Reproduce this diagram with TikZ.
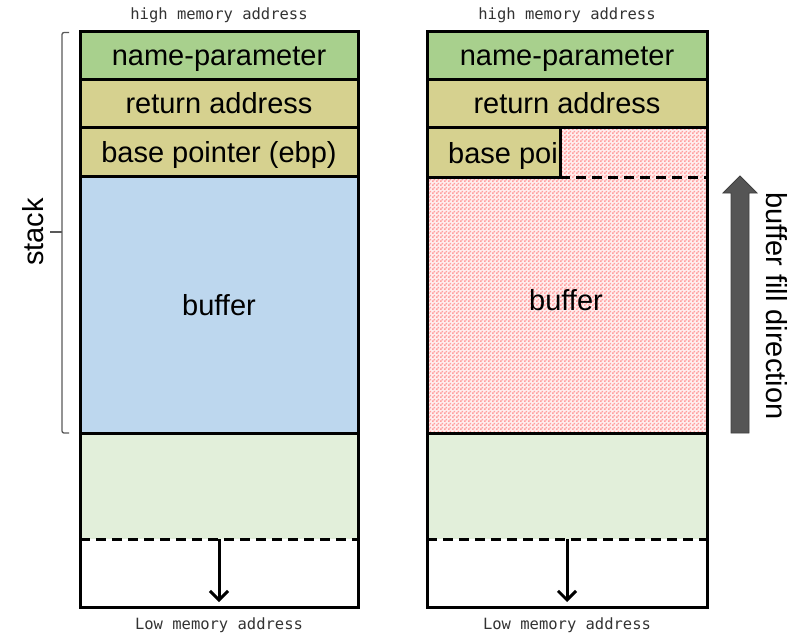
\documentclass[tikz,border=0pt]{standalone}
\usepackage{fontspec}
\setmainfont{Liberation Sans}
\newfontfamily\monof{DejaVu Sans Mono}
\usetikzlibrary{arrows.meta,patterns}
\pgfdeclarepatternformonly{pinkcheck}{\pgfpointorigin}{\pgfpoint{4pt}{4pt}}{\pgfpoint{4pt}{4pt}}{%
  \pgfpathrectangle{\pgfpointorigin}{\pgfpoint{2pt}{2pt}}%
  \pgfpathrectangle{\pgfpoint{2pt}{2pt}}{\pgfpoint{2pt}{2pt}}%
  \pgfusepath{fill}}
\definecolor{npgreen}{RGB}{168,208,141}
\definecolor{olive}{RGB}{214,209,143}
\definecolor{bufblue}{RGB}{189,215,238}
\definecolor{freegreen}{RGB}{226,239,218}
\definecolor{pinkc}{RGB}{255,158,158}
\definecolor{pinkbg}{RGB}{255,238,238}
\definecolor{arrowgray}{RGB}{85,85,85}
\tikzset{
  x=1pt, y=-1pt,
  cell/.style={draw=black, line width=3pt, inner sep=0pt, outer sep=0pt, minimum width=278pt,
    font=\fontsize{29}{29}\selectfont, text height=26pt, text depth=5pt},
  plain/.style={inner sep=0pt, outer sep=0pt, minimum width=278pt},
  addr/.style={font=\monof\fontsize{15.5}{15.5}\selectfont, text=black!80, inner sep=0pt},
  big/.style={font=\fontsize{29}{29}\selectfont, inner sep=0pt},
  frame/.style={line width=3pt, line cap=rect},
  dashline/.style={line width=3pt, dash pattern=on 10pt off 6pt},
  downarrow/.style={line width=3pt, -{Straight Barb[length=9pt,width=18pt,line width=3pt]}, shorten >=5pt},
  bracket/.style={draw=black!65, line width=1.3pt},
}
\begin{document}
\begin{tikzpicture}
\useasboundingbox (0,0) rectangle (799,634);
% ---------- left column ----------
\node[addr] (lhigh) at (219,15) {high memory address};
\node[plain, fill=freegreen, minimum height=106pt] (lfree) at (219,486) {};
\node[plain, minimum height=68pt] (llow) at (219,573) {};
\node[cell, fill=npgreen, minimum height=47pt] (lnp) at (219,55.5) {name-parameter};
\node[cell, fill=olive, minimum height=48pt] (lra) at (219,103) {return address};
\node[cell, fill=olive, minimum height=49pt] (lbp) at (219,151.5) {base pointer (ebp)};
\node[cell, fill=bufblue, minimum height=257pt] (lbuf) at (219,304.5) {buffer};
\draw[frame] (lbuf.south west) -- (llow.south west) -- (llow.south east) -- (lbuf.south east);
\draw[dashline] (llow.north west) -- (llow.north east);
\draw[downarrow] (llow.north) -- (llow.south);
\node[addr] (llowaddr) at (219,625) {Low memory address};
% stack bracket
\draw[bracket, rounded corners=2pt] (69,32.5) -- (62,32.5) -- (62,433) -- (69,433);
\draw[bracket] (62,232) -- (50,232);
\node[big, rotate=90] (stack) at (33,232) {stack};
% ---------- right column ----------
\node[addr] (rhigh) at (567,15) {high memory address};
\node[plain, fill=freegreen, minimum height=106pt, minimum width=280pt] (rfree) at (567,486) {};
\node[plain, minimum height=68pt, minimum width=280pt] (rlow) at (567,573) {};
\node[cell, fill=npgreen, minimum height=47pt, minimum width=280pt] (rnp) at (567,55.5) {name-parameter};
\node[cell, fill=olive, minimum height=48pt, minimum width=280pt] (rra) at (567,103) {return address};
\node[cell, fill=pinkbg, minimum height=306pt, minimum width=280pt] (rpink) at (567,280) {};
\fill[pattern=pinkcheck, pattern color=pinkc] (rpink.north west) rectangle (rpink.south east);
\draw[line width=3pt] (rpink.north west) rectangle (rpink.south east);
\node[cell, fill=olive, minimum height=50pt, minimum width=133pt] (rbp) at (493.5,152) {};
\node[big, anchor=base west] (rbptext) at (448,163) {base poi};
\coordinate (rdashend) at (rpink.east |- rbp.south);
\draw[dashline] (rbp.south east) -- (rdashend);
\node[big, text height=26pt, text depth=5pt] (rbuftext) at (566,300) {buffer};
\draw[frame] (rpink.south west) -- (rlow.south west) -- (rlow.south east) -- (rpink.south east);
\draw[dashline] (rlow.north west) -- (rlow.north east);
\draw[downarrow] (rlow.north) -- (rlow.south);
\node[addr] (rlowaddr) at (567,625) {Low memory address};
% ---------- fill direction arrow ----------
\filldraw[fill=arrowgray, draw=black!75, line width=0.8pt, line join=miter]
  (731,433) -- (731,193) -- (723,193) -- (740,176) -- (757,193) -- (749,193) -- (749,433) -- cycle;
\node[big, rotate=-90] (filldir) at (777,306) {buffer fill direction};
\end{tikzpicture}
\end{document}
